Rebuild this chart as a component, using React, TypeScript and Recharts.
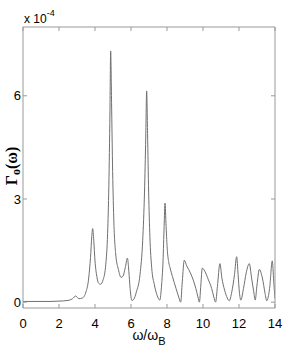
import React from "react";
import { LineChart, Line, XAxis, YAxis, Label } from "recharts";

// ω/ω_B positions and Γ_0(ω) values (in units of 1e-4)
const omega = [
  0, 0.5, 1, 1.5, 2, 2.5, 2.75, 2.93, 3.1, 3.3, 3.5, 3.65, 3.75, 3.82, 3.87,
  3.93, 4.0, 4.1, 4.2, 4.3, 4.45, 4.6, 4.7, 4.77, 4.83, 4.87, 4.92, 4.98, 5.05,
  5.15, 5.3, 5.45, 5.55, 5.68, 5.8, 5.88, 5.95, 6.05, 6.15, 6.3, 6.5, 6.65,
  6.75, 6.82, 6.87, 6.92, 6.98, 7.05, 7.15, 7.3, 7.45, 7.6, 7.7, 7.78, 7.84,
  7.89, 7.95, 8.02, 8.1, 8.17, 8.3, 8.5, 8.65, 8.76, 8.85, 8.96, 9.1, 9.3,
  9.46, 9.6, 9.72, 9.8, 9.88, 9.96, 10.1, 10.3, 10.48, 10.6, 10.7, 10.8, 10.94,
  11.05, 11.2, 11.35, 11.46, 11.6, 11.75, 11.87, 11.95, 12.02, 12.1, 12.25,
  12.4, 12.57, 12.7, 12.82, 12.9, 13.0, 13.13, 13.3, 13.45, 13.54, 13.7, 13.85,
  13.93, 14.0,
];
const gamma = [
  0.02, 0.02, 0.02, 0.02, 0.03, 0.05, 0.1, 0.18, 0.1, 0.12, 0.3, 0.7, 1.3, 1.9,
  2.14, 1.8, 1.2, 0.75, 0.55, 0.52, 0.65, 1.1, 2.0, 3.4, 5.5, 7.3, 5.8, 3.8,
  2.3, 1.4, 0.95, 0.72, 0.75, 1.0, 1.28, 0.9, 0.4, 0.05, 0.08, 0.3, 0.8, 1.8,
  3.2, 4.8, 6.14, 4.9, 3.2, 1.9, 1.0, 0.5, 0.2, 0.06, 0.5, 1.2, 2.2, 2.88, 2.2,
  1.5, 1.15, 1.0, 0.75, 0.4, 0.15, 0.0, 0.6, 1.22, 1.05, 0.85, 0.64, 0.4, 0.15,
  0.0, 0.5, 0.99, 0.9, 0.65, 0.4, 0.15, 0.0, 0.45, 1.12, 0.7, 0.35, 0.12, 0.04,
  0.3, 0.8, 1.32, 0.8, 0.3, 0.06, 0.4, 0.85, 1.12, 0.7, 0.3, 0.06, 0.5, 0.95,
  0.7, 0.25, 0.04, 0.4, 1.2, 0.6, 0.1,
];
const xTicks = [0, 2, 4, 6, 8, 10, 12, 14];
const yTicks = [0, 3, 6];

const data = omega.map((w, i) => ({ w, g: gamma[i] }));

const FONT = "'Liberation Sans', Arial, sans-serif";
const ink = "#000";
const frame = "#999";

const BottomTick = ({ x, y, payload }: any) => (
  <g>
    <line x1={x} y1={y} x2={x} y2={y - 4} stroke={frame} />
    <text x={x} y={y + 20} textAnchor="middle" fontSize={13} fontFamily={FONT} fill={ink}>
      {payload.value}
    </text>
  </g>
);

const LeftTick = ({ x, y, payload }: any) => (
  <g>
    <line x1={x} y1={y} x2={x + 4} y2={y} stroke={frame} />
    <text x={x - 2} y={y} dy="0.36em" textAnchor="end" fontSize={13} fontFamily={FONT} fill={ink}>
      {payload.value}
    </text>
  </g>
);

const TopTick = ({ x, y }: any) => (
  <line x1={x} y1={y} x2={x} y2={y + 4} stroke={frame} />
);

const RightTick = ({ x, y }: any) => (
  <line x1={x} y1={y} x2={x - 4} y2={y} stroke={frame} />
);

const YTitle = () => (
  <g>
    <text
      transform="rotate(-90, 17, 166)"
      x={17}
      y={166}
      textAnchor="middle"
      fontSize={16}
      fontWeight="bold"
      fontFamily="'Liberation Serif', 'Times New Roman', serif"
      fill={ink}
    >
      Γ
      <tspan fontSize={12} dy={3}>o</tspan>
      <tspan dy={-3}>(ω)</tspan>
    </text>
    <text x={24} y={23} fontSize={12} fontFamily={FONT} fill={ink}>
      x 10
      <tspan fontSize={9} dy={-7}>-4</tspan>
    </text>
  </g>
);

const XTitle = () => (
  <text x={149} y={340} textAnchor="middle" fontSize={14} fontFamily={FONT} fill={ink}>
    ω/ω
    <tspan fontSize={11} dy={5}>B</tspan>
  </text>
);

export default function App() {
  return (
    <div style={{ position: "absolute", left: 0, top: 0, background: "#fff" }}>
      <LineChart
        width={284}
        height={354}
        data={data}
        margin={{ top: 26, right: 8, bottom: 0, left: 0 }}
      >
        <XAxis
          dataKey="w"
          type="number"
          domain={[0, 14]}
          ticks={xTicks}
          allowDataOverflow
          height={46}
          tickSize={0}
          tickMargin={0}
          tickLine={false}
          axisLine={{ stroke: frame }}
          tick={<BottomTick />}
          interval={0}
        >
          <Label content={<XTitle />} />
        </XAxis>
        <XAxis
          xAxisId="top"
          dataKey="w"
          orientation="top"
          type="number"
          domain={[0, 14]}
          ticks={xTicks}
          allowDataOverflow
          height={1}
          tickSize={0}
          tickMargin={0}
          tickLine={false}
          axisLine={{ stroke: frame }}
          tick={<TopTick />}
          interval={0}
        />
        <YAxis
          type="number"
          domain={[-0.17, 8]}
          ticks={yTicks}
          allowDataOverflow
          width={23}
          tickSize={0}
          tickMargin={0}
          tickLine={false}
          axisLine={{ stroke: frame }}
          tick={<LeftTick />}
          interval={0}
        >
          <Label content={<YTitle />} />
        </YAxis>
        <YAxis
          yAxisId="right"
          orientation="right"
          type="number"
          domain={[-0.17, 8]}
          ticks={yTicks}
          allowDataOverflow
          width={1}
          tickSize={0}
          tickMargin={0}
          tickLine={false}
          axisLine={{ stroke: frame }}
          tick={<RightTick />}
          interval={0}
        />
        <Line
          dataKey="g"
          type="monotone"
          stroke="#707070"
          strokeWidth={1}
          dot={false}
          isAnimationActive={false}
        />
        {/* invisible copy so the top/right box axes get drawn */}
        <Line
          xAxisId="top"
          yAxisId="right"
          dataKey="g"
          stroke="none"
          dot={false}
          activeDot={false}
          legendType="none"
          isAnimationActive={false}
        />
      </LineChart>
    </div>
  );
}
